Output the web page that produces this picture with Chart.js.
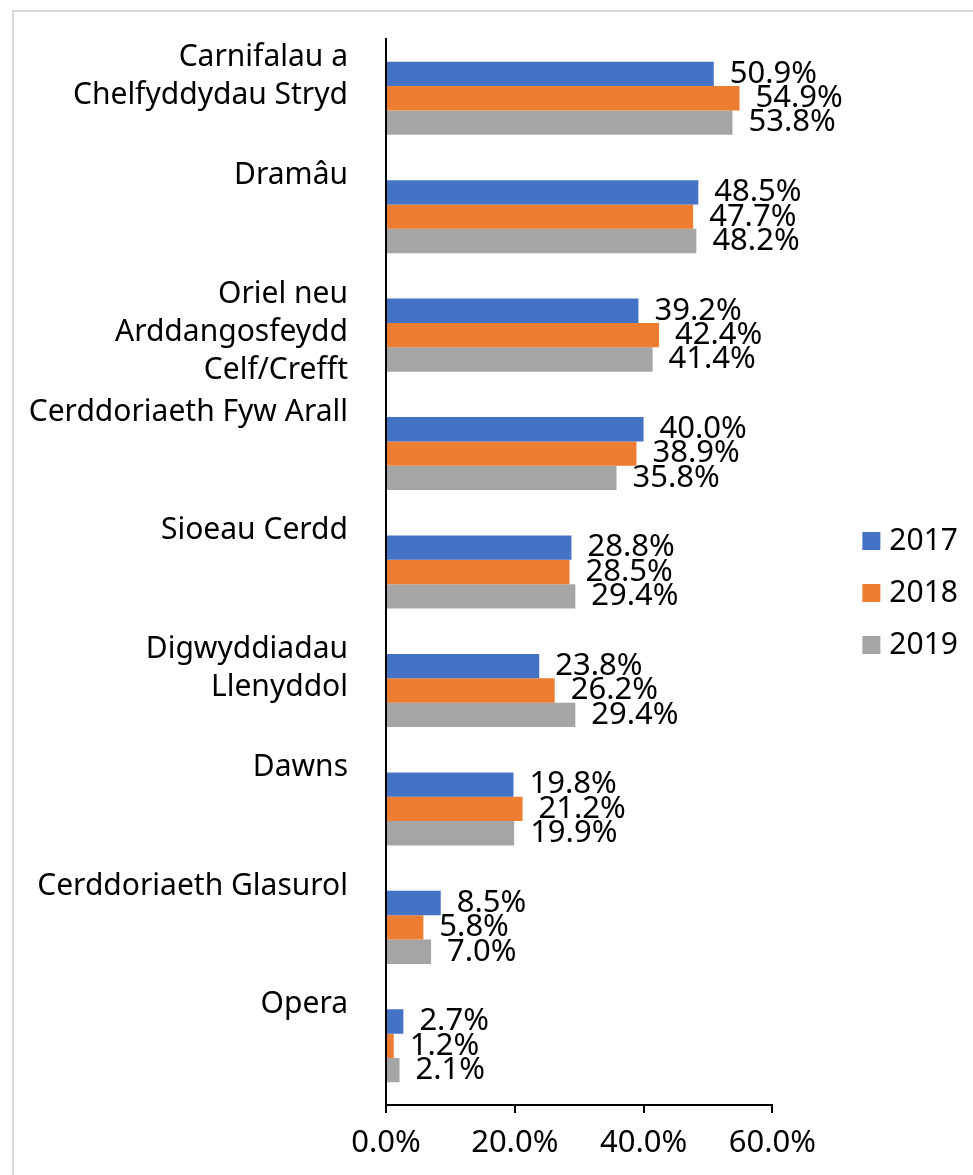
<!DOCTYPE html>
<html>
<head>
<meta charset="utf-8">
<script src="https://cdn.jsdelivr.net/npm/chart.js@4.4.1/dist/chart.umd.min.js"></script>
<style>
  html, body { margin: 0; padding: 0; background: #fff; overflow: hidden; }
  .frame { position: absolute; left: 12px; top: 10px; width: 1000px; height: 1200px; border: 2px solid #d9d9d9; box-sizing: border-box; }
  #chart { position: absolute; left: 0; top: 0; }
</style>
</head>
<body>
<div class="frame"></div>
<canvas id="chart" width="973" height="1175"></canvas>
<script>
const categories = [
  ['Carnifalau a', 'Chelfyddydau Stryd'],
  ['Dramâu'],
  ['Oriel neu', 'Arddangosfeydd', 'Celf/Crefft'],
  ['Cerddoriaeth Fyw Arall'],
  ['Sioeau Cerdd'],
  ['Digwyddiadau', 'Llenyddol'],
  ['Dawns'],
  ['Cerddoriaeth Glasurol'],
  ['Opera']
];
const years = ['2017', '2018', '2019'];
const values2017 = [50.9, 48.5, 39.2, 40.0, 28.8, 23.8, 19.8, 8.5, 2.7];
const values2018 = [54.9, 47.7, 42.4, 38.9, 28.5, 26.2, 21.2, 5.8, 1.2];
const values2019 = [53.8, 48.2, 41.4, 35.8, 29.4, 29.4, 19.9, 7.0, 2.1];
const xTicks = [0, 20, 40, 60];
const colors = ['#4472C4', '#ED7D31', '#A5A5A5'];

const fontFamily = '"Noto Sans", "DejaVu Sans", sans-serif';

// labels are padded to 3 lines so they sit at the top of each band
const padLines = (lines) => lines.concat(Array(3 - lines.length).fill(''));

const valueLabels = {
  id: 'valueLabels',
  afterDatasetsDraw(chart) {
    const { ctx } = chart;
    ctx.save();
    ctx.font = `31px ${fontFamily}`;
    ctx.fillStyle = '#000';
    ctx.textAlign = 'left';
    ctx.textBaseline = 'middle';
    chart.data.datasets.forEach((ds, i) => {
      const meta = chart.getDatasetMeta(i);
      meta.data.forEach((bar, j) => {
        ctx.fillText(ds.data[j].toFixed(1) + '%', bar.x + 16, bar.y);
      });
    });
    ctx.restore();
  }
};

const seriesValues = [values2017, values2018, values2019];

new Chart(document.getElementById('chart'), {
  type: 'bar',
  data: {
    labels: categories.map((c) => c.join(' ')),
    datasets: years.map((year, i) => ({
      label: year,
      data: seriesValues[i],
      backgroundColor: colors[i],
      borderWidth: 0,
      categoryPercentage: 0.617,
      barPercentage: 1,
      xAxisID: 'x',
      yAxisID: 'y'
    }))
  },
  plugins: [valueLabels],
  options: {
    indexAxis: 'y',
    responsive: false,
    animation: false,
    layout: { padding: { top: 13, right: 5, bottom: 2, left: 0 } },
    plugins: {
      tooltip: { enabled: false },
      legend: {
        position: 'right',
        labels: {
          usePointStyle: true,
          pointStyle: 'rect',
          boxWidth: 6,
          boxHeight: 18,
          padding: 22,
          color: '#000',
          font: { family: fontFamily, size: 30 }
        }
      }
    },
    scales: {
      x: {
        type: 'linear',
        min: 0,
        max: 60,
        afterBuildTicks: (scale) => {
          scale.ticks = xTicks.map((v) => ({ value: v }));
        },
        ticks: {
          color: '#000',
          padding: 12,
          font: { family: fontFamily, size: 31, lineHeight: 1.16 },
          callback: (v) => v.toFixed(1) + '%'
        },
        grid: { drawOnChartArea: false, tickLength: 8, color: '#000', lineWidth: 2 },
        border: { display: true, color: '#000', width: 2 }
      },
      y: {
        type: 'category',
        afterFit: (scale) => {
          scale.width = 386;
          scale.paddingTop = 0;
          scale.paddingBottom = 0;
        },
        ticks: {
          autoSkip: false,
          color: '#000',
          padding: 30,
          labelOffset: -3,
          font: { family: fontFamily, size: 30, lineHeight: 1.27 },
          callback: (v, i) => padLines(categories[i])
        },
        grid: { display: false },
        border: { display: true, color: '#000', width: 2 }
      },
      gapTop: {
        axis: 'x',
        type: 'linear',
        position: 'top',
        afterFit: (scale) => { scale.height = 26; },
        ticks: { display: false },
        grid: { display: false },
        border: { display: false }
      },
      gap: {
        axis: 'y',
        type: 'linear',
        position: 'right',
        afterFit: (scale) => { scale.width = 74; },
        ticks: { display: false },
        grid: { display: false },
        border: { display: false }
      }
    }
  }
});
</script>
</body>
</html>
